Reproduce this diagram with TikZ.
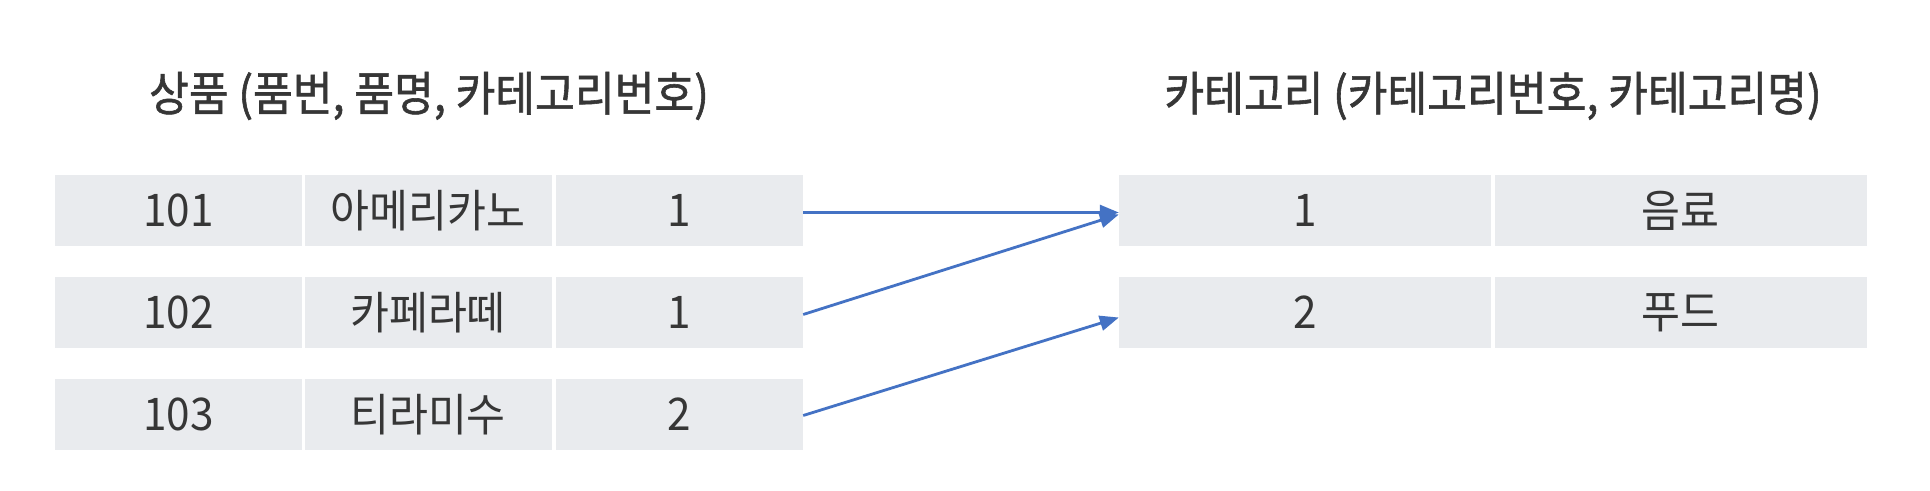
\documentclass[tikz,border=0pt]{standalone}
\usepackage{fontspec}
\setmainfont{Noto Sans CJK KR}
\newfontfamily\cellfont[FakeStretch=0.94]{Noto Sans CJK KR}
\newfontfamily\ttlfont[FakeStretch=0.92,FakeBold=1.2]{Noto Sans CJK KR}
\usetikzlibrary{arrows.meta}
\definecolor{cellgray}{HTML}{E9EBEE}
\definecolor{txt}{HTML}{363636}
\definecolor{arrowblue}{HTML}{4472C4}
\tikzset{
  cell/.style={rectangle, fill=cellgray, inner sep=0pt, minimum height=71pt, text=txt, font=\cellfont\fontsize{45}{52}\selectfont},
  lcell/.style={cell, minimum width=247pt},
  rcell/.style={cell, minimum width=372pt},
  ttl/.style={text=txt, inner sep=0pt, font=\ttlfont\fontsize{47}{54}\selectfont},
  link/.style={draw=arrowblue, line width=2.8pt, -{Triangle[length=19pt,width=15pt]}, shorten >=0pt}
}
\begin{document}
\begin{tikzpicture}[x=1pt, y=-1pt]
\useasboundingbox (0,0) rectangle (1930,490);
\fill[white] (0,0) rectangle (1930,490);
\node[ttl] (t1) at (429,96) {상품 (품번, 품명, 카테고리번호)};
\node[ttl] (t2) at (1493,96) {카테고리 (카테고리번호, 카테고리명)};
% left table
\node[lcell] (a11) at (178.5,210.5) {101};
\node[lcell] (a12) at (428,210.5) {아메리카노};
\node[lcell] (a13) at (679.5,210.5) {1};
\node[lcell] (a21) at (178.5,312.5) {102};
\node[lcell] (a22) at (428,312.5) {카페라떼};
\node[lcell] (a23) at (679.5,312.5) {1};
\node[lcell] (a31) at (178.5,414.5) {103};
\node[lcell] (a32) at (428,414.5) {티라미수};
\node[lcell] (a33) at (679.5,414.5) {2};
% right table
\node[rcell] (b11) at (1305,210.5) {1};
\node[rcell] (b12) at (1680.5,210.5) {음료};
\node[rcell] (b21) at (1305,312.5) {2};
\node[rcell] (b22) at (1680.5,312.5) {푸드};
% links
\coordinate (e1) at ([yshift=-2pt]b11.west);
\coordinate (e2) at ([yshift=-4pt]b11.west);
\coordinate (e3) at ([yshift=-5pt]b21.west);
\draw[link] ([yshift=-2pt]a13.east) -- (e1);
\draw[link] ([yshift=-2pt]a23.east) -- (e2);
\draw[link] ([yshift=-1pt]a33.east) -- (e3);
\end{tikzpicture}
\end{document}
